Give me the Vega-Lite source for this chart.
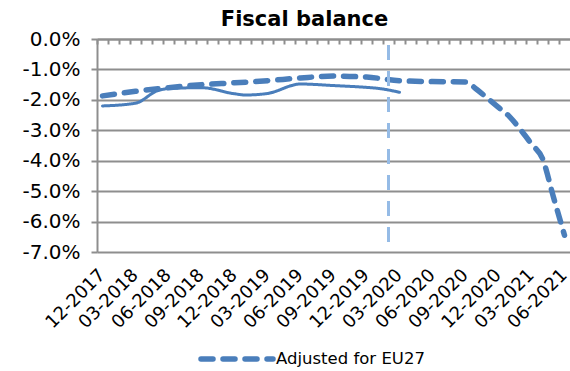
{
  "$schema": "https://vega.github.io/schema/vega-lite/v6.json",
  "width": 473,
  "height": 213,
  "autosize": "none",
  "padding": {"left": 97, "top": 39, "right": 0, "bottom": 119},
  "background": "white",
  "config": {
    "font": "DejaVu Sans",
    "view": {"stroke": null}
  },
  "title": {
    "text": "Fiscal balance",
    "font": "DejaVu Sans",
    "fontSize": 21,
    "fontWeight": "bold",
    "color": "black",
    "anchor": "middle",
    "frame": "group",
    "dx": -29,
    "offset": -18,
    "baseline": "alphabetic"
  },
  "datasets": {
    "balance": [
      {"month": "12-2017", "series": "Reported", "value": -2.2},
      {"month": "03-2018", "series": "Reported", "value": -2.11},
      {"month": "05-2018", "series": "Reported", "value": -1.7},
      {"month": "06-2018", "series": "Reported", "value": -1.63},
      {"month": "09-2018", "series": "Reported", "value": -1.6},
      {"month": "12-2018", "series": "Reported", "value": -1.8},
      {"month": "01-2019", "series": "Reported", "value": -1.84},
      {"month": "03-2019", "series": "Reported", "value": -1.79},
      {"month": "06-2019", "series": "Reported", "value": -1.48},
      {"month": "09-2019", "series": "Reported", "value": -1.53},
      {"month": "12-2019", "series": "Reported", "value": -1.59},
      {"month": "01-2020", "series": "Reported", "value": -1.62},
      {"month": "03-2020", "series": "Reported", "value": -1.75},
      {"month": "12-2017", "series": "Adjusted for EU27", "value": -1.87},
      {"month": "03-2018", "series": "Adjusted for EU27", "value": -1.72},
      {"month": "06-2018", "series": "Adjusted for EU27", "value": -1.6},
      {"month": "09-2018", "series": "Adjusted for EU27", "value": -1.5},
      {"month": "12-2018", "series": "Adjusted for EU27", "value": -1.44},
      {"month": "03-2019", "series": "Adjusted for EU27", "value": -1.37},
      {"month": "06-2019", "series": "Adjusted for EU27", "value": -1.28},
      {"month": "09-2019", "series": "Adjusted for EU27", "value": -1.22},
      {"month": "12-2019", "series": "Adjusted for EU27", "value": -1.25},
      {"month": "03-2020", "series": "Adjusted for EU27", "value": -1.37},
      {"month": "06-2020", "series": "Adjusted for EU27", "value": -1.4},
      {"month": "09-2020", "series": "Adjusted for EU27", "value": -1.41},
      {"month": "10-2020", "series": "Adjusted for EU27", "value": -1.65},
      {"month": "11-2020", "series": "Adjusted for EU27", "value": -1.95},
      {"month": "12-2020", "series": "Adjusted for EU27", "value": -2.25},
      {"month": "01-2021", "series": "Adjusted for EU27", "value": -2.55},
      {"month": "02-2021", "series": "Adjusted for EU27", "value": -2.98},
      {"month": "03-2021", "series": "Adjusted for EU27", "value": -3.45},
      {"month": "04-2021", "series": "Adjusted for EU27", "value": -3.93},
      {"month": "05-2021", "series": "Adjusted for EU27", "value": -5.2},
      {"month": "06-2021", "series": "Adjusted for EU27", "value": -6.45}
    ],
    "marker": [
      {"month": "02-2020", "from": -0.2, "to": -7}
    ]
  },
  "layer": [
    {
      "data": {"name": "balance"},
      "mark": {
        "type": "line",
        "color": "#4A7EBB",
        "strokeCap": "round",
        "strokeJoin": "round",
        "interpolate": "monotone"
      },
      "encoding": {
        "x": {
          "field": "month",
          "type": "ordinal",
          "bandPosition": 0.5,
          "scale": {
            "type": "band",
            "paddingInner": 0,
            "paddingOuter": 0,
            "domain": ["12-2017", "01-2018", "02-2018", "03-2018", "04-2018", "05-2018", "06-2018", "07-2018", "08-2018", "09-2018", "10-2018", "11-2018", "12-2018", "01-2019", "02-2019", "03-2019", "04-2019", "05-2019", "06-2019", "07-2019", "08-2019", "09-2019", "10-2019", "11-2019", "12-2019", "01-2020", "02-2020", "03-2020", "04-2020", "05-2020", "06-2020", "07-2020", "08-2020", "09-2020", "10-2020", "11-2020", "12-2020", "01-2021", "02-2021", "03-2021", "04-2021", "05-2021", "06-2021"]
          },
          "axis": {
            "orient": "bottom",
            "title": null,
            "values": ["12-2017", "03-2018", "06-2018", "09-2018", "12-2018", "03-2019", "06-2019", "09-2019", "12-2019", "03-2020", "06-2020", "09-2020", "12-2020", "03-2021", "06-2021"],
            "domain": false,
            "ticks": false,
            "tickSize": 0,
            "grid": false,
            "bandPosition": 0.5,
            "labelAngle": -45,
            "labelAlign": "right",
            "labelBaseline": "middle",
            "labelPadding": 20,
            "labelFontSize": 18,
            "labelFont": "DejaVu Sans",
            "labelColor": "black",
            "labelOverlap": false,
            "labelBound": false
          }
        },
        "y": {
          "field": "value",
          "type": "quantitative",
          "scale": {"domain": [-7, 0], "nice": false, "zero": false},
          "axis": {
            "orient": "left",
            "title": null,
            "values": [-7, -6, -5, -4, -3, -2, -1, 0],
            "labelExpr": "replace(format(datum.value, '.1f'), '\u2212', '-') + '%'",
            "grid": true,
            "gridColor": "#8e8e8e",
            "gridWidth": 2,
            "domain": true,
            "domainColor": "#8e8e8e",
            "domainWidth": 2,
            "ticks": true,
            "tickColor": "#8e8e8e",
            "tickWidth": 2,
            "tickSize": 6,
            "labelPadding": 11,
            "labelFontSize": 20,
            "labelFont": "DejaVu Sans",
            "labelColor": "black"
          }
        },
        "strokeDash": {
          "field": "series",
          "type": "nominal",
          "scale": {
            "domain": ["Reported", "Adjusted for EU27"],
            "range": [[1, 0], [12, 10]]
          },
          "legend": {
            "orient": "none",
            "legendX": 101,
            "legendY": 281,
            "values": ["Adjusted for EU27"],
            "title": null,
            "direction": "horizontal",
            "padding": 0,
            "symbolType": "stroke",
            "symbolSize": 5184,
            "symbolStrokeWidth": 5,
            "symbolStrokeColor": "#4A7EBB",
            "symbolDash": [12, 9],
            "labelFontSize": 16.5,
            "labelFont": "DejaVu Sans",
            "labelColor": "black",
            "labelOffset": 0,
            "encode": {
              "symbols": {"update": {"strokeCap": {"value": "round"}, "strokeDash": {"value": [12, 9]}}}
            }
          }
        },
        "strokeWidth": {
          "field": "series",
          "type": "ordinal",
          "scale": {"domain": ["Reported", "Adjusted for EU27"], "range": [3, 5.5]},
          "legend": null
        },
        "order": {"value": null}
      }
    },
    {
      "data": {"name": "marker"},
      "mark": {
        "type": "rule",
        "color": "#95BBE6",
        "strokeWidth": 3,
        "strokeDash": [15, 11]
      },
      "encoding": {
        "x": {
          "field": "month",
          "type": "ordinal",
          "bandPosition": 0.5,
          "scale": {
            "type": "band",
            "paddingInner": 0,
            "paddingOuter": 0,
            "domain": ["12-2017", "01-2018", "02-2018", "03-2018", "04-2018", "05-2018", "06-2018", "07-2018", "08-2018", "09-2018", "10-2018", "11-2018", "12-2018", "01-2019", "02-2019", "03-2019", "04-2019", "05-2019", "06-2019", "07-2019", "08-2019", "09-2019", "10-2019", "11-2019", "12-2019", "01-2020", "02-2020", "03-2020", "04-2020", "05-2020", "06-2020", "07-2020", "08-2020", "09-2020", "10-2020", "11-2020", "12-2020", "01-2021", "02-2021", "03-2021", "04-2021", "05-2021", "06-2021"]
          },
          "axis": {
            "orient": "bottom",
            "offset": -213,
            "title": null,
            "labels": false,
            "grid": false,
            "domain": true,
            "domainColor": "#8e8e8e",
            "domainWidth": 2,
            "ticks": true,
            "tickColor": "#8e8e8e",
            "tickWidth": 2,
            "tickSize": 5,
            "bandPosition": 0
          }
        },
        "y": {
          "field": "from",
          "type": "quantitative",
          "scale": {"domain": [-7, 0], "nice": false, "zero": false},
          "axis": {
            "orient": "left",
            "title": null,
            "values": [-7, -6, -5, -4, -3, -2, -1, 0],
            "labelExpr": "replace(format(datum.value, '.1f'), '\u2212', '-') + '%'",
            "grid": true,
            "gridColor": "#8e8e8e",
            "gridWidth": 2,
            "domain": true,
            "domainColor": "#8e8e8e",
            "domainWidth": 2,
            "ticks": true,
            "tickColor": "#8e8e8e",
            "tickWidth": 2,
            "tickSize": 6,
            "labelPadding": 11,
            "labelFontSize": 20,
            "labelFont": "DejaVu Sans",
            "labelColor": "black"
          }
        },
        "y2": {"field": "to"}
      }
    }
  ],
  "resolve": {"axis": {"x": "independent"}}
}
